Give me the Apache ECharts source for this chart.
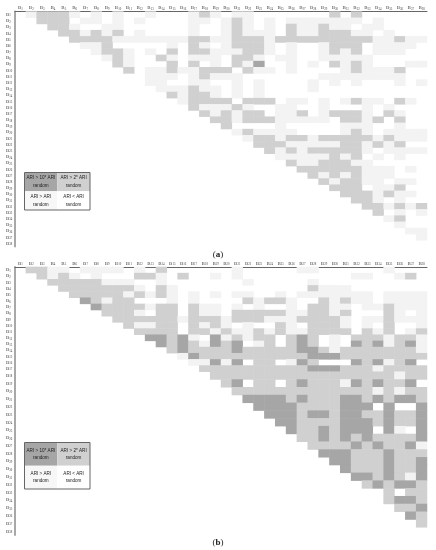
<!DOCTYPE html>
<html>
<head>
<meta charset="utf-8">
<script src="https://cdn.jsdelivr.net/npm/echarts@6/dist/echarts.min.js"></script>
<style>
  html, body { margin: 0; padding: 0; background: #fff; }
  #chart { width: 436px; height: 550px; }
</style>
</head>
<body>
<div id="chart"></div>
<script>
// 0 = ARI < random, 1 = ARI > random, 2 = ARI > 2*random, 3 = ARI > 10*random
// each row is right aligned, missing leading cells are empty
const matrixA = [
  '0122210101001000121 0110000000202000000',
  '0022201101010000110 1210101111111010000',
  '0002210011000000100 1210102112110110000',
  '0000221212010000100 1211102112221101000',
  '0000022221111111221 1222122222222211211',
  '0000001120000010210 1222101001222011110',
  '0000000122101020221 1122101001212011100',
  '0000000012100210111 0221011001111100000',
  '0000000002100020201 0213001010212100011',
  '0000000000201121122 2021101000012111200',
  '0000000000001110121 1100000001111111100',
  '0000000000001100110 0101000010101000101',
  '0000000000000111211 0101000010000000000',
  '0000000000000021221 0101000000000000000',
  '0000000000000001222 2022201101012110210',
  '0000000000000000211 1210011001000101000',
  '0000000000000000021 2122011201222102100',
  '0000000000000000002 2122211111022120200',
  '2000010000011100100',
  '0121111000012101111',
  '0012212212222212111',
  '0002221111122121200',
  '0000212122222101111',
  '0000011111212010100',
  '0000002112221100000',
  '0000000222222111010',
  '0000000021212111000',
  '0000000002122110110',
  '0000000000222011200',
  '0000000000022212110',
  '0000000000002210100',
  '0000000000000221212',
  '0000000000000020101',
  '0000000000000001200',
  '0000000000000000100',
  '0000000000000000011',
  '0000000000000000001',
  '0'
]

const matrixB = [
  '0221101111010200000 0100000110000001000',
  '0021210100022102001 0100000000001100120',
  '0002222211100100000 0010000010000000000',
  '0000222222210210000 0000000021110000000',
  '0000022222121210101 0110010111111101111',
  '0000003212200010100 0021221002121101111',
  '0000000322221220211 0101001022110112111',
  '0000000022210220211 0222221122120002101',
  '0000000002222221222 1222111222210112111',
  '0000000000211220212 1010021022210102001',
  '0000000000022220221 2112121122220212012',
  '0000000000003323103 1212202320102221221',
  '0000000000000323213 2301202320103231231',
  '0000000000000023222 2322222332122222221',
  '0000000000000001322 2222222233322222222',
  '0000000000000000113 1302201320003231230',
  '0000000000000000022 2222222233322212222',
  '0000000000000000002 2222222222222222122',
  '2302202322213232230',
  '0222222222222212122',
  '0033332322233232332',
  '0003333222233303003',
  '0000333233233223223',
  '0000033222233323223',
  '0000003223233303103',
  '0000000223232322223',
  '0000000022223232231',
  '0000000003332223222',
  '0000000000332223223',
  '0000000000032223223',
  '0000000000003323213',
  '0000000000000232332',
  '0000000000000002022',
  '0000000000000002332',
  '0000000000000000223',
  '0000000000000000032',
  '0000000000000000002',
  '0'
]

const labels = Array.from({ length: 38 }, (_, i) => 'B' + (i + 1))
const levelColors = ['#ffffff', '#f3f3f3', '#d0d0d0', '#a6a6a6']
const legendCells = [
  ['ARI > 10* ARI', 'random', '#a6a6a6'],
  ['ARI > 2* ARI', 'random', '#d0d0d0'],
  ['ARI > ARI', 'random', '#f7f7f7'],
  ['ARI < ARI', 'random', '#ffffff']
]

const FONT = '"Liberation Serif", serif'
const LEFT = 15
const WIDTH = 412

// rows [from, to) of a matrix into heatmap cells
const toCells = (matrix, from, to) => {
  const cells = []
  matrix.slice(from, to).forEach((row, r) => {
    const digits = row.replace(/ /g, '').padStart(38, '0')
    for (let c = 0; c < 38; c++) {
      if (digits[c] !== '0') cells.push([c, r, Number(digits[c])])
    }
  })
  return cells
}

const tickLabel = {
  interval: 0,
  hideOverlap: false,
  fontFamily: FONT,
  color: '#444',
  formatter: (v) => '{b|B}{s|' + v.slice(1) + '}',
  rich: {
    b: { fontFamily: FONT, fontSize: 5, color: '#444' },
    s: { fontFamily: FONT, fontSize: 3, color: '#444', verticalAlign: 'bottom', padding: [2, 0, 0, 0] }
  }
}

const panels = [
  { top: 11.6, height: 234.9, from: 0, to: 38, matrix: matrixA, showX: true },
  { top: 266.9, height: 104.8, from: 0, to: 17, matrix: matrixB, showX: true },
  { top: 371.7, height: 163.4, from: 17, to: 38, matrix: matrixB, showX: false }
]

const legendBox = (top, height) => {
  const x = 24.5
  const w = 32.75
  const h = height / 2
  const items = []
  legendCells.forEach((cell, i) => {
    const cx = x + (i % 2) * w
    const cy = top + (i > 1 ? h : 0)
    items.push({
      type: 'rect',
      shape: { x: cx, y: cy, width: w, height: h },
      style: { fill: cell[2] }
    })
    items.push({
      type: 'text',
      x: cx + w / 2,
      y: cy + h / 2,
      style: {
        text: cell[0] + '\n' + cell[1],
        font: '4.6px "Liberation Sans", sans-serif',
        fill: '#222',
        align: 'center',
        verticalAlign: 'middle',
        lineHeight: 7.4
      }
    })
  })
  items.push({
    type: 'rect',
    shape: { x: x, y: top, width: w * 2, height: height },
    style: { fill: 'none', stroke: '#666', lineWidth: 1 }
  })
  return items
}

const caption = (letter, y) => ({
  type: 'text',
  x: 218,
  y: y,
  style: {
    rich: {
      r: { font: '9px ' + FONT, fill: '#222' },
      l: { font: 'bold 9px ' + FONT, fill: '#222' }
    },
    text: '{r|(}{l|' + letter + '}{r|)}',
    align: 'center',
    verticalAlign: 'middle'
  }
})

const chart = echarts.init(document.getElementById('chart'))
chart.setOption({
  animation: false,
  backgroundColor: '#fff',
  grid: panels.map((p) => ({ left: LEFT, top: p.top, width: WIDTH, height: p.height })),
  xAxis: panels.map((p, i) => ({
    type: 'category',
    gridIndex: i,
    position: 'top',
    data: labels,
    show: p.showX,
    axisTick: { show: false },
    splitLine: { show: false },
    axisLine: { lineStyle: { color: '#666', width: 1 } },
    axisLabel: { ...tickLabel, margin: 1 }
  })),
  yAxis: panels.map((p, i) => ({
    type: 'category',
    gridIndex: i,
    inverse: true,
    data: labels.slice(p.from, p.to),
    axisTick: { show: false },
    splitLine: { show: false },
    axisLine: { lineStyle: { color: '#a8a8a8', width: 2 } },
    axisLabel: { ...tickLabel, margin: 9, align: 'left' }
  })),
  visualMap: {
    type: 'piecewise',
    show: false,
    dimension: 2,
    pieces: [1, 2, 3].map((v) => ({ value: v, color: levelColors[v] }))
  },
  series: panels.map((p, i) => ({
    type: 'heatmap',
    xAxisIndex: i,
    yAxisIndex: i,
    silent: true,
    progressive: 0,
    data: toCells(p.matrix, p.from, p.to)
  })),
  graphic: [
    ...legendBox(172.5, 37.5),
    ...legendBox(442.5, 46.5),
    caption('a', 255),
    caption('b', 543)
  ]
})
</script>
</body>
</html>
